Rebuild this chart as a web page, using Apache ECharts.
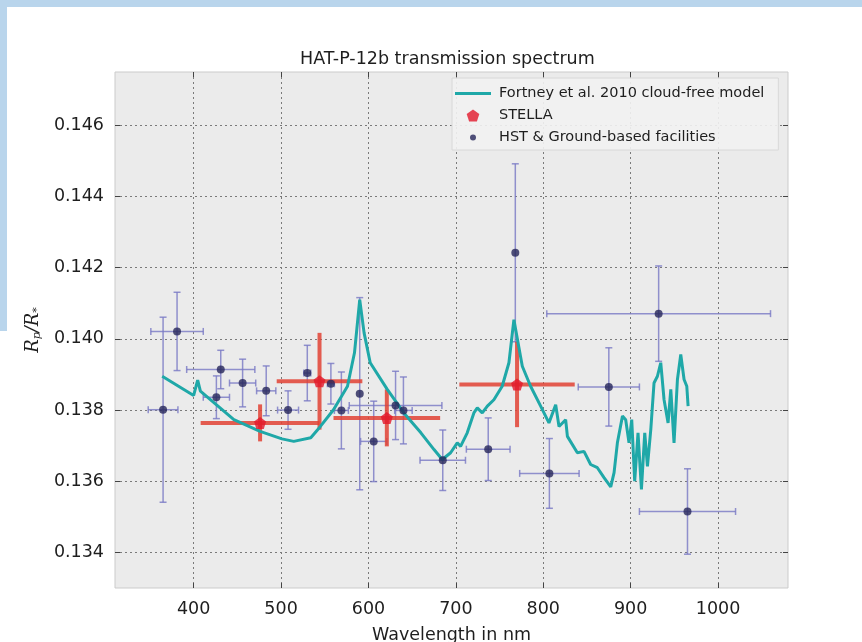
<!DOCTYPE html>
<html>
<head>
<meta charset="utf-8">
<script src="https://cdn.jsdelivr.net/npm/echarts@6/dist/echarts.min.js"></script>
<style>
  body { margin: 0; background: #fff; }
  #main { width: 862px; height: 642px; }
</style>
</head>
<body>
<div id="main"></div>
<script>
// HST & ground-based points
var hstWave    = [365, 381, 431, 426, 456, 483, 508, 530, 557, 569, 590, 606, 631, 640, 685, 737, 768, 807, 875, 932, 965];
var hstRad     = [0.13801, 0.14021, 0.13914, 0.13836, 0.13876, 0.13854, 0.13800, 0.13904, 0.13874, 0.13799, 0.13846,
                  0.13712, 0.13813, 0.13799, 0.13659, 0.13690, 0.14242, 0.13622, 0.13865, 0.14071, 0.13515];
var hstWaveErr = [17, 30, 39, 15, 15, 11, 12, 4, 4, 8, 0, 15, 53, 10, 26, 25, 0, 34, 35, 128, 55];
var hstRadErr  = [0.0026, 0.0011, 0.00054, 0.0006, 0.00067, 0.0007, 0.00054, 0.00078, 0.00057, 0.00108, 0.0027,
                  0.00113, 0.00096, 0.00094, 0.00085, 0.00088, 0.0025, 0.00098, 0.0011, 0.00134, 0.0012];

// STELLA points
var stellaWave    = [476, 544, 621, 770];
var stellaRad     = [0.13764, 0.13881, 0.13778, 0.13872];
var stellaWaveErr = [68, 49, 61, 66];
var stellaRadErr  = [0.00052, 0.00136, 0.0008, 0.0012];

// Fortney et al. 2010 model
var modelWave = [364, 400, 404.6, 407.7, 446, 476, 501, 514.5, 534, 545, 560, 576, 584, 590, 595, 602, 621.5, 640.5,
                 660, 675, 684.4, 694, 701.6, 705.4, 713, 720.6, 724.5, 730.2, 736, 743.5, 753, 760.7, 766.4, 768.4,
                 776, 785.5, 797, 806.5, 814.2, 818, 825.6, 827.6, 839, 846.6, 854.2, 861.9, 869.5, 877.2, 881, 884.8,
                 890.6, 894.3, 898.1, 901.2, 904.6, 908.4, 912.3, 916.1, 919.2, 923, 926.7, 930.6, 934.4, 938.2, 942.8,
                 945.9, 949.6, 953.5, 957.3, 961.1, 964.2, 965.7];
var modelRad  = [0.13895, 0.13841, 0.13884, 0.13853, 0.13773, 0.13740, 0.13719, 0.13712, 0.13722, 0.13754, 0.13801,
                 0.13867, 0.13961, 0.1411, 0.14017, 0.13933, 0.13858, 0.13792, 0.13736, 0.13689, 0.13661, 0.13680,
                 0.13708, 0.13698, 0.13736, 0.13792, 0.13806, 0.13792, 0.13811, 0.13829, 0.13867, 0.13933, 0.14054,
                 0.14059, 0.13923, 0.13867, 0.13811, 0.13764, 0.13815, 0.13754, 0.13773, 0.13726, 0.13680, 0.13684,
                 0.13647, 0.13638, 0.13610, 0.13584, 0.13624, 0.13708, 0.13783, 0.13773, 0.13708, 0.13773, 0.13600,
                 0.13736, 0.13577, 0.13736, 0.13642, 0.13745, 0.13876, 0.13895, 0.13933, 0.13829, 0.13764, 0.13858,
                 0.13708, 0.13886, 0.13956, 0.13886, 0.13867, 0.13811];

var xTicks = [400, 500, 600, 700, 800, 900, 1000];
var yTicks = [0.134, 0.136, 0.138, 0.140, 0.142, 0.144, 0.146];

var pentagon = 'path://M0,-10L9.511,-3.09L5.878,8.09L-5.878,8.09L-9.511,-3.09Z';
var smallDot = 'path://M0,0M12,12M3,6A3,3,0,1,1,9,6A3,3,0,1,1,3,6Z';
var lineIcon = 'path://M0,0L36,0L36,3L0,3Z';

function zip(a, b, c, d) {
  var out = [];
  for (var i = 0; i < a.length; i++) {
    out.push(c ? [a[i], b[i], c[i], d[i]] : [a[i], b[i]]);
  }
  return out;
}

function errorBars(color, width, cap) {
  return function (params, api) {
    var x = api.value(0), y = api.value(1), dx = api.value(2), dy = api.value(3);
    var l = api.coord([x - dx, y]), r = api.coord([x + dx, y]);
    var t = api.coord([x, y + dy]), b = api.coord([x, y - dy]);
    var st = { stroke: color, lineWidth: width };
    var kids = [
      { type: 'line', shape: { x1: t[0], y1: t[1], x2: b[0], y2: b[1] }, style: st }
    ];
    if (dx > 0) {
      kids.push({ type: 'line', shape: { x1: l[0], y1: l[1], x2: r[0], y2: r[1] }, style: st });
    }
    if (cap) {
      kids.push({ type: 'line', shape: { x1: t[0] - cap, y1: t[1], x2: t[0] + cap, y2: t[1] }, style: st });
      kids.push({ type: 'line', shape: { x1: b[0] - cap, y1: b[1], x2: b[0] + cap, y2: b[1] }, style: st });
      if (dx > 0) {
        kids.push({ type: 'line', shape: { x1: l[0], y1: l[1] - cap, x2: l[0], y2: l[1] + cap }, style: st });
        kids.push({ type: 'line', shape: { x1: r[0], y1: r[1] - cap, x2: r[0], y2: r[1] + cap }, style: st });
      }
    }
    return { type: 'group', children: kids };
  };
}

var font = 'DejaVu Sans';
var gridLine = { show: true, lineStyle: { color: '#7a7a7a', type: [2, 3], width: 1 } };
var tickIn = { show: true, inside: true, length: 5, lineStyle: { color: '#444' } };

var chart = echarts.init(document.getElementById('main'));
option = {
  animation: false,
  backgroundColor: '#fff',
  title: {
    text: 'HAT-P-12b transmission spectrum',
    left: 300, top: 50, padding: 0,
    textStyle: { fontFamily: font, fontSize: 17.5, fontWeight: 'normal', color: '#1e1e1e' }
  },
  graphic: [
    { type: 'rect', left: 0, top: 0, shape: { width: 862, height: 7 }, style: { fill: '#b9d5ec' }, silent: true },
    { type: 'rect', left: 0, top: 0, shape: { width: 7, height: 331 }, style: { fill: '#b9d5ec' }, silent: true }
  ],
  legend: {
    orient: 'vertical',
    left: 452, top: 78,
    padding: [8, 14, 5, 3],
    itemWidth: 36, itemHeight: 12, itemGap: 7,
    backgroundColor: 'rgba(242,242,242,0.9)',
    borderColor: '#d8d8d8', borderWidth: 1,
    textStyle: { fontFamily: font, fontSize: 14.5, color: '#1e1e1e', padding: [0, 0, 0, 3] },
    data: [
      { name: 'Fortney et al. 2010 cloud-free model', icon: lineIcon },
      { name: 'STELLA', icon: pentagon },
      { name: 'HST & Ground-based facilities', icon: smallDot }
    ]
  },
  grid: {
    left: 115, top: 72, width: 673, height: 516,
    outerBoundsMode: 'none', containLabel: false,
    show: true, backgroundColor: '#ebebeb', borderColor: '#cbcbcb', borderWidth: 1
  },
  xAxis: [{
    type: 'value', min: 310, max: 1080,
    name: 'Wavelength in nm', nameLocation: 'middle', nameGap: 38,
    nameTextStyle: { fontFamily: font, fontSize: 17.5, color: '#1e1e1e' },
    axisLine: { show: false },
    axisTick: Object.assign({ customValues: xTicks }, tickIn),
    axisLabel: {
      customValues: xTicks, margin: 12, fontFamily: font, fontSize: 17.5, color: '#1e1e1e',
      formatter: function (v) { return String(v); }
    },
    splitLine: gridLine
  }, {
    type: 'value', min: 310, max: 1080, position: 'top',
    axisLine: { show: false },
    axisTick: Object.assign({ customValues: xTicks }, tickIn),
    axisLabel: { show: false }, splitLine: { show: false }
  }],
  yAxis: [{
    type: 'value', min: 0.133, max: 0.1475,
    name: '{i|R}{s|p}{i|/R}{s|*}', nameLocation: 'middle', nameGap: 64, nameRotate: 90,
    nameTextStyle: {
      rich: {
        i: { fontFamily: 'DejaVu Serif', fontStyle: 'italic', fontSize: 18, color: '#1e1e1e' },
        s: { fontFamily: 'DejaVu Serif', fontStyle: 'italic', fontSize: 11, color: '#1e1e1e', verticalAlign: 'bottom', padding: [8, 0, 0, 0] }
      }
    },
    axisLine: { show: false },
    axisTick: Object.assign({ customValues: yTicks }, tickIn),
    axisLabel: {
      customValues: yTicks, margin: 11, fontFamily: font, fontSize: 17.5, color: '#1e1e1e',
      formatter: function (v) { return v.toFixed(3); }
    },
    splitLine: gridLine
  }, {
    type: 'value', min: 0.133, max: 0.1475, position: 'right',
    axisLine: { show: false },
    axisTick: Object.assign({ customValues: yTicks }, tickIn),
    axisLabel: { show: false }, splitLine: { show: false }
  }],
  series: [
    {
      name: 'hst-err', type: 'custom', z: 2,
      renderItem: errorBars('rgba(120,120,196,0.8)', 1.5, 3.5),
      encode: { x: 0, y: 1 },
      data: zip(hstWave, hstRad, hstWaveErr, hstRadErr)
    },
    {
      name: 'stella-err', type: 'custom', z: 3,
      renderItem: errorBars('rgba(226,66,52,0.85)', 4, 0),
      encode: { x: 0, y: 1 },
      data: zip(stellaWave, stellaRad, stellaWaveErr, stellaRadErr)
    },
    {
      name: 'Fortney et al. 2010 cloud-free model', type: 'line', z: 4,
      symbol: 'none', color: '#1fa8a8',
      lineStyle: { width: 3, color: '#1fa8a8' },
      data: zip(modelWave, modelRad)
    },
    {
      name: 'HST & Ground-based facilities', type: 'scatter', z: 5,
      symbol: 'circle', symbolSize: 8,
      itemStyle: { color: '#25255a' },
      data: zip(hstWave, hstRad)
    },
    {
      name: 'STELLA', type: 'scatter', z: 6,
      symbol: pentagon, symbolSize: 12,
      itemStyle: { color: '#e2182a' },
      data: zip(stellaWave, stellaRad)
    }
  ]
};
chart.setOption(option);
</script>
</body>
</html>
